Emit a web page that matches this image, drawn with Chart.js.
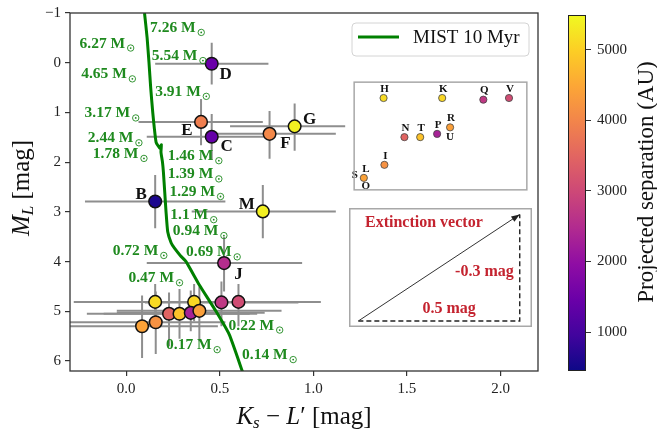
<!DOCTYPE html>
<html lang="en">
<head>
<meta charset="UTF-8">
<title>CMD</title>
<script src="https://cdn.jsdelivr.net/npm/chart.js"></script>
<style>
  body { margin: 0; background: #fff; }
  #wrap { position: relative; width: 657px; height: 430px; overflow: hidden; }
  canvas { position: absolute; }
</style>
</head>
<body>
<div id="wrap">
  <canvas id="main" width="657" height="430" style="left:0;top:0"></canvas>
  <canvas id="inset" width="183" height="118" style="left:349px;top:77px"></canvas>
  <canvas id="ext" width="183" height="119" style="left:349px;top:208px"></canvas>
  <canvas id="cbar" width="117" height="430" style="left:540px;top:0"></canvas>
</div>
<script>
// stars: colour, magnitude, error ranges, projected separation
const starNames = ['D','E','C','F','G','B','M','','H','K','Q','J','N','T','P','R','I','S'];
const starX   = [0.457,0.40,0.457,0.766,0.90,0.155,0.73,0.523,0.155,0.363,0.509,0.60,0.229,0.285,0.345,0.391,0.158,0.085];
const starY   = [0.02,1.19,1.49,1.43,1.28,2.79,2.99,4.03,4.81,4.81,4.82,4.81,5.05,5.05,5.03,4.99,5.22,5.30];
const xErrLo  = [0.155,0.066,0.11,0.43,0.555,-0.22,0.35,0.11,-0.28,-0.05,0.10,0.17,-0.21,-0.12,-0.05,-0.05,-0.30,-0.30];
const xErrHi  = [0.76,0.73,0.80,1.12,1.17,0.53,1.12,0.94,0.59,0.78,0.92,1.04,0.66,0.70,0.74,0.83,0.53,0.49];
const yErrLo  = [-0.40,0.73,1.03,0.97,0.82,2.26,2.46,3.50,4.45,4.45,4.40,4.45,4.62,4.55,4.58,4.50,4.60,4.68];
const yErrHi  = [0.44,1.66,1.95,1.93,1.77,3.33,3.53,4.60,5.15,5.20,5.30,5.30,5.70,5.55,5.40,5.60,5.86,5.94];
const starSep = [1460,3880,1400,4030,5390,600,5390,2520,5140,5090,2720,3070,3470,4830,2320,4380,4180,4430];

// MIST 10 Myr isochrone
const trackX = [0.098,0.112,0.122,0.131,0.142,0.150,0.160,0.180,0.188,0.186,0.194,0.199,0.206,0.213,0.222,0.240,0.258,0.290,0.320,0.391,0.480,0.551,0.622];
const trackY = [-1.0,-0.5,0.0,0.5,1.0,1.3,1.6,1.72,1.65,1.80,2.0,2.2,2.6,3.0,3.4,3.62,3.73,3.88,4.0,4.47,5.0,5.47,6.22];

// mass labels along the track
const massText = ['7.26','6.27','5.54','4.65','3.91','3.17','2.44','1.78','1.46','1.39','1.29','1.1','0.94','0.72','0.69','0.47','0.22','0.17','0.14'];
const massX = [0.128,-0.249,0.137,-0.240,0.155,-0.222,-0.205,-0.178,0.222,0.222,0.231,0.236,0.249,-0.072,0.320,0.012,0.547,0.213,0.619];
const massY = [-0.70,-0.386,-0.134,0.234,0.586,1.02,1.52,1.834,1.88,2.246,2.60,3.066,3.386,3.786,3.814,4.334,5.286,5.68,5.88];

// inset: zoom of the faint cluster
const insetIdx  = [8,9,10,11,12,13,14,15,16,17];
const insetText = [['H'],['K'],['Q'],['V'],['N'],['T'],['P'],['R','U'],['I'],['S','L','O']];

// extinction vector
const extColor = 0.5;
const extMag = -0.3;

const xTicks = [0, 0.5, 1, 1.5, 2];
const yTicks = [-1, 0, 1, 2, 3, 4, 5, 6];
const cbTicks = [1000, 2000, 3000, 4000, 5000];
const sepMin = 450, sepMax = 5490;

const SERIF = '"Liberation Serif", "DejaVu Serif", serif';
const plasmaStops = [[13,8,135],[65,4,157],[106,0,168],[143,13,164],[177,42,144],[204,71,120],[225,100,98],[242,132,75],[252,166,54],[252,206,37],[240,249,33]];
function plasma(t) {
  t = Math.max(0, Math.min(1, t));
  const f = t * 10, i = Math.min(9, Math.floor(f)), u = f - i;
  const a = plasmaStops[i], b = plasmaStops[i + 1];
  return 'rgb(' + [0,1,2].map(k => Math.round(a[k] + (b[k] - a[k]) * u)).join(',') + ')';
}
const sepColor = s => plasma((s - sepMin) / (sepMax - sepMin));

function drawRich(ctx, parts, x, y) {
  let w = 0;
  parts.forEach(p => { ctx.font = p.font; w += ctx.measureText(p.t).width; });
  let cx = x - w / 2;
  ctx.textAlign = 'left';
  ctx.textBaseline = 'alphabetic';
  parts.forEach(p => {
    ctx.font = p.font;
    ctx.fillText(p.t, cx, y + (p.dy || 0));
    cx += ctx.measureText(p.t).width;
  });
}

const labelOffsets = { D:[14,11], E:[-14,9], C:[15,10], F:[16,10], G:[15,-7], B:[-14,-7], M:[-16,-7], J:[0,-27] };

const mainDecor = {
  id: 'mainDecor',
  beforeDraw(chart) {
    const ctx = chart.ctx;
    ctx.save(); ctx.fillStyle = '#fff'; ctx.fillRect(0, 0, chart.width, chart.height); ctx.restore();
  },
  beforeDatasetsDraw(chart) {
    const { ctx, chartArea: a, scales: { x, y } } = chart;
    ctx.save();
    ctx.beginPath(); ctx.rect(a.left, a.top, a.right - a.left, a.bottom - a.top); ctx.clip();
    ctx.strokeStyle = '#8e8e8e';
    ctx.lineWidth = 2;
    starX.forEach((sx, i) => {
      const px = x.getPixelForValue(sx), py = y.getPixelForValue(starY[i]);
      ctx.beginPath();
      ctx.moveTo(x.getPixelForValue(xErrLo[i]), py); ctx.lineTo(x.getPixelForValue(xErrHi[i]), py);
      ctx.moveTo(px, y.getPixelForValue(yErrLo[i])); ctx.lineTo(px, y.getPixelForValue(yErrHi[i]));
      ctx.stroke();
    });
    ctx.restore();
  },
  afterDatasetsDraw(chart) {
    const { ctx, chartArea: a, scales: { x, y } } = chart;
    ctx.save();
    // mass labels
    ctx.fillStyle = '#1f8a1f';
    ctx.strokeStyle = '#1f8a1f';
    ctx.textBaseline = 'middle';
    ctx.textAlign = 'left';
    massText.forEach((m, i) => {
      const px = x.getPixelForValue(massX[i]), py = y.getPixelForValue(massY[i]);
      ctx.font = 'bold 15.5px ' + SERIF;
      const t = m + ' M';
      ctx.fillText(t, px, py);
      const cx = px + ctx.measureText(t).width + 5.5, cy = py + 4.5;
      ctx.lineWidth = 0.9;
      ctx.beginPath(); ctx.arc(cx, cy, 3.2, 0, Math.PI * 2); ctx.stroke();
      ctx.beginPath(); ctx.arc(cx, cy, 0.9, 0, Math.PI * 2); ctx.fill();
    });
    // star labels
    ctx.fillStyle = '#111';
    ctx.textAlign = 'center';
    ctx.font = 'bold 17px ' + SERIF;
    starNames.forEach((n, i) => {
      if (!labelOffsets[n]) return;
      const o = labelOffsets[n];
      ctx.fillText(n, x.getPixelForValue(starX[i]) + o[0], y.getPixelForValue(starY[i]) + o[1]);
    });
    // frame
    ctx.strokeStyle = '#333';
    ctx.lineWidth = 1.3;
    ctx.strokeRect(a.left, a.top, a.right - a.left, a.bottom - a.top);
    // legend
    const lx = a.right - 186, ly = a.top + 10, lw = 177, lh = 33;
    ctx.beginPath(); ctx.roundRect(lx, ly, lw, lh, 4);
    ctx.fillStyle = 'rgba(255,255,255,0.85)'; ctx.fill();
    ctx.strokeStyle = '#d4d4d4'; ctx.lineWidth = 1; ctx.stroke();
    ctx.strokeStyle = '#008000'; ctx.lineWidth = 3;
    ctx.beginPath(); ctx.moveTo(lx + 6, ly + 14); ctx.lineTo(lx + 47, ly + 14); ctx.stroke();
    ctx.fillStyle = '#111'; ctx.font = '19px ' + SERIF; ctx.textAlign = 'left'; ctx.textBaseline = 'middle';
    ctx.fillText('MIST 10 Myr', lx + 61, ly + 15);
    // axis titles
    ctx.fillStyle = '#111';
    const big = '25px ' + SERIF, it = 'italic 25px ' + SERIF, sub = 'italic 17px ' + SERIF;
    drawRich(ctx, [{t:'K', font:it}, {t:'s', font:sub, dy:4}, {t:' \u2212 ', font:big}, {t:'L', font:it}, {t:'\u2032 [mag]', font:big}], (a.left + a.right) / 2, 424);
    ctx.save();
    ctx.translate(29, (a.top + a.bottom) / 2 - 4);
    ctx.rotate(-Math.PI / 2);
    drawRich(ctx, [{t:'M', font:it}, {t:'L', font:sub, dy:4}, {t:' [mag]', font:big}], 0, 0);
    ctx.restore();
    ctx.restore();
  }
};

const tickFont = { family: SERIF, size: 15 };

new Chart(document.getElementById('main'), {
  type: 'scatter',
  data: {
    datasets: [
      {
        label: 'stars',
        data: starX.map((v, i) => ({ x: v, y: starY[i] })),
        backgroundColor: starSep.map(sepColor),
        borderColor: '#111',
        borderWidth: 1.5,
        pointRadius: 6.3,
        pointHoverRadius: 6.3,
        order: 0
      },
      {
        label: 'MIST 10 Myr',
        type: 'line',
        data: trackX.map((v, i) => ({ x: v, y: trackY[i] })),
        borderColor: '#008000',
        borderWidth: 3,
        pointRadius: 0,
        fill: false,
        tension: 0.15,
        order: 1
      }
    ]
  },
  options: {
    responsive: false,
    animation: false,
    layout: { padding: { left: 0, top: 10, right: 119, bottom: 0 } },
    plugins: { legend: { display: false }, tooltip: { enabled: false } },
    scales: {
      x: {
        type: 'linear', min: -0.3, max: 2.2,
        afterBuildTicks: s => { s.ticks = xTicks.map(v => ({ value: v })); },
        afterFit: s => { s.height = 59; },
        grid: { drawOnChartArea: false, tickLength: 5, color: '#333', lineWidth: 1.2 },
        border: { display: false },
        ticks: { font: tickFont, color: '#222', padding: 4, maxRotation: 0, callback: v => v.toFixed(1) }
      },
      y: {
        type: 'linear', min: -1, max: 6.2, reverse: true,
        afterBuildTicks: s => { s.ticks = yTicks.map(v => ({ value: v })); },
        afterFit: s => { s.width = 70; },
        grid: { drawOnChartArea: false, tickLength: 5, color: '#333', lineWidth: 1.2 },
        border: { display: false },
        ticks: { font: tickFont, color: '#222', padding: 4, callback: v => (v < 0 ? '\u2212' + Math.abs(v) : String(v)) }
      }
    }
  },
  plugins: [mainDecor]
});

// inset
const insetDecor = {
  id: 'insetDecor',
  beforeDraw(chart) {
    const ctx = chart.ctx;
    ctx.save(); ctx.fillStyle = '#fff'; ctx.fillRect(0, 0, chart.width, chart.height); ctx.restore();
  },
  afterDatasetsDraw(chart) {
    const { ctx, chartArea: a } = chart;
    const meta = chart.getDatasetMeta(0);
    ctx.save();
    ctx.fillStyle = '#111';
    ctx.font = 'bold 11px ' + SERIF;
    ctx.textAlign = 'center';
    ctx.textBaseline = 'middle';
    const place = { U: [0, 9.5], S: [-9, -3], L: [2, -9], O: [2, 8.5] };
    insetText.forEach((labs, k) => {
      const el = meta.data[k];
      labs.forEach(l => {
        const o = place[l] || [1, -9];
        ctx.fillText(l, el.x + o[0], el.y + o[1]);
      });
    });
    ctx.strokeStyle = '#a8a8a8';
    ctx.lineWidth = 1.5;
    ctx.strokeRect(a.left + 0.75, a.top + 0.75, a.right - a.left - 1.5, a.bottom - a.top - 1.5);
    ctx.restore();
  }
};

new Chart(document.getElementById('inset'), {
  type: 'scatter',
  data: {
    datasets: [{
      data: insetIdx.map(i => ({ x: starX[i], y: starY[i] })),
      backgroundColor: insetIdx.map(i => sepColor(starSep[i])),
      borderColor: '#444',
      borderWidth: 0.8,
      pointRadius: 3.6,
      pointHoverRadius: 3.6
    }]
  },
  options: {
    responsive: false, animation: false,
    layout: { padding: 0 },
    plugins: { legend: { display: false }, tooltip: { enabled: false } },
    scales: {
      x: { display: false, min: 0.048, max: 0.666 },
      y: { display: false, min: 4.708, max: 5.378, reverse: true }
    }
  },
  plugins: [insetDecor]
});

// extinction vector box
const extDecor = {
  id: 'extDecor',
  beforeDraw(chart) {
    const ctx = chart.ctx;
    ctx.save(); ctx.fillStyle = '#fff'; ctx.fillRect(0, 0, chart.width, chart.height); ctx.restore();
  },
  afterDatasetsDraw(chart) {
    const { ctx, chartArea: a, scales: { x, y } } = chart;
    const x0 = x.getPixelForValue(0), y0 = y.getPixelForValue(0);
    const x1 = x.getPixelForValue(extColor), y1 = y.getPixelForValue(-extMag);
    ctx.save();
    const ang = Math.atan2(y1 - y0, x1 - x0), L = 9;
    ctx.fillStyle = '#222';
    ctx.beginPath();
    ctx.moveTo(x1, y1);
    ctx.lineTo(x1 - L * Math.cos(ang - 0.35), y1 - L * Math.sin(ang - 0.35));
    ctx.lineTo(x1 - L * Math.cos(ang + 0.35), y1 - L * Math.sin(ang + 0.35));
    ctx.closePath(); ctx.fill();
    ctx.fillStyle = '#c4232f';
    ctx.font = 'bold 16px ' + SERIF;
    ctx.textBaseline = 'middle';
    ctx.textAlign = 'left';
    ctx.fillText('Extinction vector', a.left + 16, a.top + 15);
    ctx.textAlign = 'right';
    ctx.fillText(extMag.toFixed(1) + ' mag', x1 - 6, (y0 + y1) / 2 + 4);
    ctx.textAlign = 'center';
    ctx.fillText(extColor.toFixed(1) + ' mag', (x0 + x1) / 2 + 10, y0 - 12);
    ctx.strokeStyle = '#a8a8a8';
    ctx.lineWidth = 1.5;
    ctx.strokeRect(a.left + 0.75, a.top + 0.75, a.right - a.left - 1.5, a.bottom - a.top - 1.5);
    ctx.restore();
  }
};

new Chart(document.getElementById('ext'), {
  type: 'scatter',
  data: {
    datasets: [
      { data: [{ x: 0, y: 0 }, { x: extColor, y: -extMag }], showLine: true, borderColor: '#333', borderWidth: 1, pointRadius: 0 },
      { data: [{ x: 0, y: 0 }, { x: extColor, y: 0 }, { x: extColor, y: -extMag }], showLine: true, borderColor: '#222', borderWidth: 1.4, borderDash: [5, 3], pointRadius: 0 }
    ]
  },
  options: {
    responsive: false, animation: false,
    layout: { padding: 0 },
    plugins: { legend: { display: false }, tooltip: { enabled: false } },
    scales: {
      x: { display: false, min: -0.029, max: 0.538 },
      y: { display: false, min: -0.017, max: 0.318 }
    }
  },
  plugins: [extDecor]
});

// colour bar
const cbDecor = {
  id: 'cbDecor',
  afterDraw(chart) {
    const { ctx, chartArea: a } = chart;
    ctx.save();
    ctx.strokeStyle = '#222';
    ctx.lineWidth = 1;
    ctx.strokeRect(a.left + 0.5, a.top + 0.5, a.right - a.left - 1, a.bottom - a.top - 1);
    ctx.fillStyle = '#111';
    ctx.font = '23px ' + SERIF;
    ctx.translate(113, 182);
    ctx.rotate(-Math.PI / 2);
    ctx.textAlign = 'center';
    ctx.textBaseline = 'alphabetic';
    ctx.fillText('Projected separation (AU)', 0, 0);
    ctx.restore();
  }
};

new Chart(document.getElementById('cbar'), {
  type: 'bar',
  data: {
    labels: [''],
    datasets: [{
      data: [[sepMin, sepMax]],
      borderWidth: 0,
      barPercentage: 1,
      categoryPercentage: 1,
      backgroundColor: c => {
        const a = c.chart.chartArea;
        if (!a) return '#888';
        const g = c.chart.ctx.createLinearGradient(0, a.bottom, 0, a.top);
        plasmaStops.forEach((s, i) => g.addColorStop(i / 10, 'rgb(' + s.join(',') + ')'));
        return g;
      }
    }]
  },
  options: {
    responsive: false, animation: false,
    layout: { padding: { left: 28, top: 11, right: 0, bottom: 59 } },
    plugins: { legend: { display: false }, tooltip: { enabled: false } },
    scales: {
      x: { display: false },
      y: {
        position: 'right', min: sepMin, max: sepMax,
        afterBuildTicks: s => { s.ticks = cbTicks.map(v => ({ value: v })); },
        afterFit: s => { s.width = 71; },
        grid: { drawOnChartArea: false, tickLength: 5, color: '#333', lineWidth: 1 },
        border: { display: false },
        ticks: { font: tickFont, color: '#222', padding: 6, callback: v => String(v) }
      }
    }
  },
  plugins: [cbDecor]
});
</script>
</body>
</html>
